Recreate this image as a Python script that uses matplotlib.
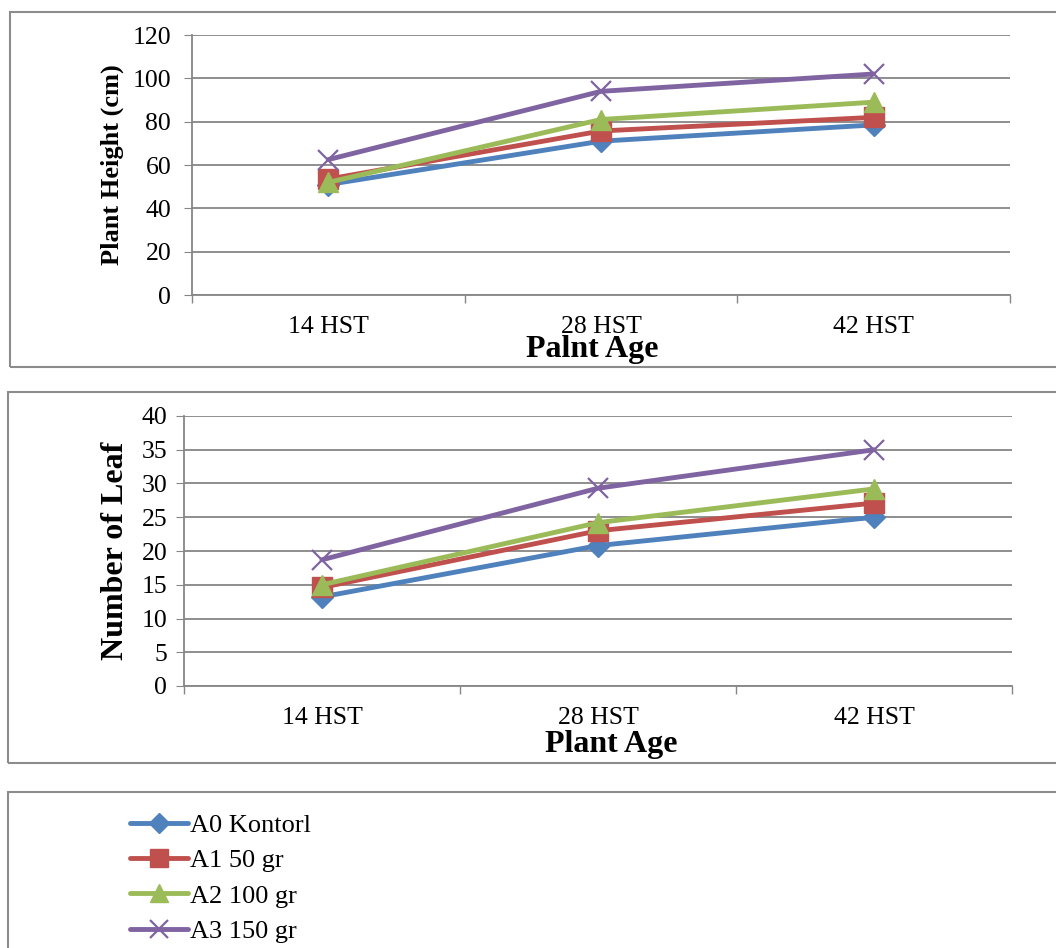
import matplotlib.pyplot as plt
from matplotlib.patches import Rectangle
from matplotlib.lines import Line2D

plt.rcParams["font.family"] = ["Liberation Serif", "DejaVu Serif"]

W, H = 1056, 948
DPI = 100

AGES = ["14 HST", "28 HST", "42 HST"]
SERIES = ["A0 Kontorl", "A1 50 gr", "A2 100 gr", "A3 150 gr"]

HEIGHT_A0 = [51, 71, 78.5]
HEIGHT_A1 = [53.5, 75.7, 82]
HEIGHT_A2 = [52, 81, 89]
HEIGHT_A3 = [62.5, 94, 102]

LEAF_A0 = [13.2, 20.8, 25]
LEAF_A1 = [14.6, 23, 27.1]
LEAF_A2 = [15, 24.2, 29.2]
LEAF_A3 = [18.7, 29.3, 35]

COLORS = ["#4F81BD", "#C0504D", "#9BBB59", "#8064A2"]
MARKERS = [("D", 11, 1), ("s", 14, 1), ("^", 15, 1), ("x", 14, 1.6)]
GRID = "#868686"
TICK_FS = 18.5


def px_box(x0, y0, x1, y1):
    """pixel box (top-left origin) -> figure-fraction rect"""
    return [x0 / W, 1 - y1 / H, (x1 - x0) / W, (y1 - y0) / H]


def style_axes(ax, ymax, ystep, ypad):
    ax.set_xlim(-0.5, 2.5)
    ax.set_ylim(0, ymax)
    ax.set_yticks(range(0, ymax + 1, ystep))
    ax.set_xticks(range(3), AGES)
    ax.set_xticks([-0.5, 0.5, 1.5, 2.5], minor=True)
    ax.tick_params(axis="x", which="major", length=0, labelsize=TICK_FS, pad=15)
    ax.tick_params(axis="x", which="minor", length=6, color=GRID, width=1)
    ax.tick_params(axis="y", length=6, color=GRID, labelsize=TICK_FS, pad=ypad)
    ax.grid(axis="y", color=GRID, linewidth=1.3)
    ax.set_axisbelow(True)
    for s in ("top", "right"):
        ax.spines[s].set_visible(False)
    for s in ("left", "bottom"):
        ax.spines[s].set_color(GRID)
        ax.spines[s].set_linewidth(1.3)


def draw(ax, data):
    for vals, name, color, (m, ms, mew) in zip(data, SERIES, COLORS, MARKERS):
        ax.plot(range(3), vals, color=color, linewidth=3.5, marker=m,
                markersize=ms, markeredgewidth=mew, markeredgecolor=color,
                markerfacecolor=color, label=name, solid_capstyle="round")


fig = plt.figure(figsize=(W / DPI, H / DPI), dpi=DPI)

# outer chart frames
for box in [(10, 12, 1070, 367), (8, 392, 1070, 763), (8, 792, 1070, 960)]:
    r = px_box(*box)
    fig.patches.append(Rectangle(r[:2], r[2], r[3], transform=fig.transFigure,
                                 fill=False, edgecolor="#8C8C8C", linewidth=1.5))

ax1 = fig.add_axes(px_box(192, 35, 1010, 295))
style_axes(ax1, 120, 20, ypad=9)
draw(ax1, [HEIGHT_A0, HEIGHT_A1, HEIGHT_A2, HEIGHT_A3])
ax1.set_ylabel("Plant Height (cm)", fontsize=19, fontweight="bold", labelpad=6)
ax1.set_xlabel("Palnt Age", fontsize=23, fontweight="bold")
ax1.xaxis.set_label_coords(0.489, -0.153)

ax2 = fig.add_axes(px_box(184, 416, 1012, 686))
style_axes(ax2, 40, 5, ypad=6)
draw(ax2, [LEAF_A0, LEAF_A1, LEAF_A2, LEAF_A3])
ax2.set_ylabel("Number of Leaf", fontsize=23, fontweight="bold", labelpad=8)
ax2.set_xlabel("Plant Age", fontsize=23, fontweight="bold")
ax2.xaxis.set_label_coords(0.516, -0.162)

handles = [Line2D([], [], color=c, linewidth=3.5, marker=m, markersize=ms * 0.9,
                  markeredgewidth=mew, markeredgecolor=c, markerfacecolor=c,
                  solid_capstyle="round")
           for c, (m, ms, mew) in zip(COLORS, MARKERS)]
fig.legend(handles, SERIES, loc="upper left",
           bbox_to_anchor=(119 / W, 1 - 803 / H), frameon=False,
           fontsize=19, handlelength=2.2, handletextpad=0.1,
           labelspacing=0.45, borderaxespad=0)

fig.savefig("out.png", dpi=DPI)
